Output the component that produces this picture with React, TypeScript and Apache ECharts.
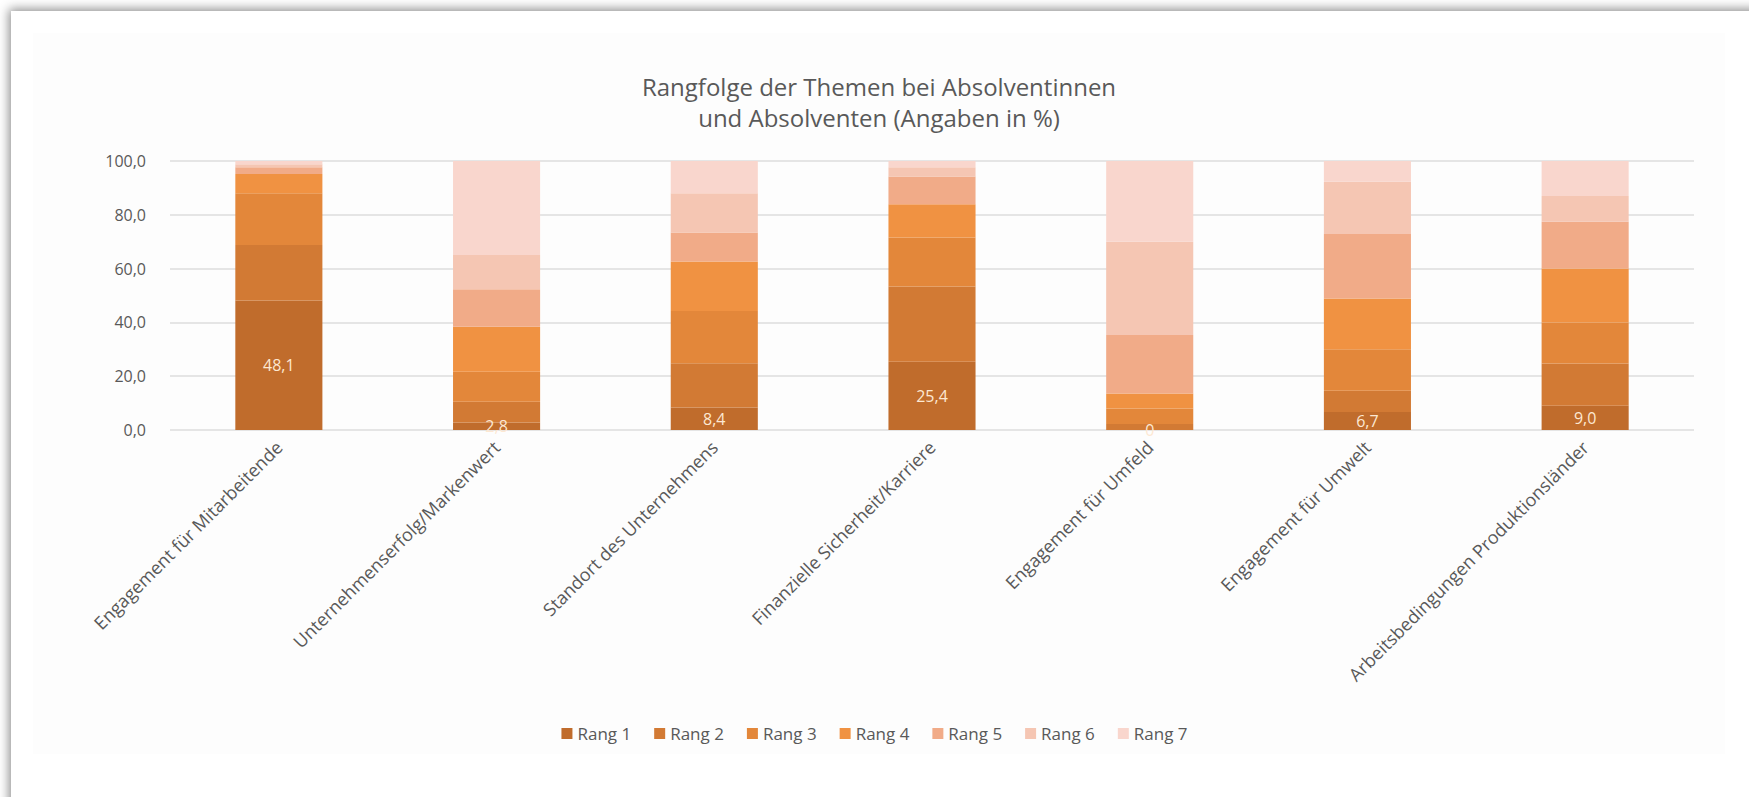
import React, { useEffect, useRef } from "react";
import * as echarts from "echarts";

const categories = [
  "Engagement für Mitarbeitende",
  "Unternehmenserfolg/Markenwert",
  "Standort des Unternehmens",
  "Finanzielle Sicherheit/Karriere",
  "Engagement für Umfeld",
  "Engagement für Umwelt",
  "Arbeitsbedingungen Produktionsländer",
];

const seriesNames = ["Rang 1", "Rang 2", "Rang 3", "Rang 4", "Rang 5", "Rang 6", "Rang 7"];

const rang1 = [48.1, 2.8, 8.4, 25.4, 0, 6.7, 9.0];
const rang2 = [20.7, 7.7, 16.4, 27.9, 2.2, 7.9, 15.7];
const rang3 = [19.2, 11.2, 19.4, 18.3, 5.8, 15.4, 15.3];
const rang4 = [7.2, 16.7, 18.4, 12.3, 5.6, 18.9, 20.0];
const rang5 = [2.5, 13.9, 10.8, 10.3, 21.7, 24.0, 17.4];
const rang6 = [1.1, 12.8, 14.6, 3.5, 34.7, 19.4, 9.6];
const rang7 = [1.2, 34.9, 12.0, 2.3, 30.0, 7.7, 13.0];

const yTicks = [0, 20, 40, 60, 80, 100];

const colors = ["#c06c2c", "#d27a34", "#e3873a", "#f09242", "#f1ab88", "#f5c6b3", "#f9d6cd"];

const FONT = "'Open Sans', sans-serif";
const GRAY = "#595959";

export default function App() {
  const ref = useRef<HTMLDivElement>(null);

  useEffect(() => {
    if (!ref.current) return;
    const chart = echarts.init(ref.current, undefined, { renderer: "svg" });
    const allData = [rang1, rang2, rang3, rang4, rang5, rang6, rang7];
    const series = allData.map((d, i) => ({
      name: seriesNames[i],
      type: "bar" as const,
      stack: "total",
      data: d,
      barWidth: "40%",
      itemStyle: { color: colors[i] },
      label:
        i === 0
          ? {
              show: true,
              position: "inside" as const,
              color: "#fde8d2",
              fontSize: 16,
              fontFamily: FONT,
              formatter: (p: any) =>
                p.value === 0 ? "0" : Number(p.value).toFixed(1).replace(".", ","),
            }
          : { show: false },
    }));

    chart.setOption({
      animation: false,
      backgroundColor: "transparent",
      title: {
        text: "Rangfolge der Themen bei Absolventinnen\nund Absolventen (Angaben in %)",
        left: 874,
        top: 66,
        textAlign: "center",
        textStyle: {
          fontFamily: FONT,
          fontSize: 24,
          fontWeight: "normal",
          color: GRAY,
          lineHeight: 31,
        },
      },
      legend: {
        data: seriesNames,
        left: "center",
        top: 720,
        itemWidth: 11,
        itemHeight: 11,
        itemGap: 23,
        icon: "rect",
        textStyle: { fontFamily: FONT, fontSize: 17, color: GRAY },
      },
      grid: { left: 170, right: 55, top: 161, bottom: 367, containLabel: false },
      xAxis: {
        type: "category",
        data: categories,
        axisLine: { show: false },
        axisTick: { show: false },
        axisLabel: {
          rotate: 45,
          interval: 0,
          margin: 14,
          fontFamily: FONT,
          fontSize: 18,
          color: GRAY,
        },
      },
      yAxis: {
        type: "value",
        min: yTicks[0],
        max: yTicks[yTicks.length - 1],
        interval: 20,
        axisLine: { show: false },
        axisTick: { show: false },
        splitLine: { lineStyle: { color: "#dcdcdc", width: 1.5 } },
        axisLabel: {
          margin: 24,
          fontFamily: FONT,
          fontSize: 16,
          color: GRAY,
          formatter: (v: number) => v.toFixed(1).replace(".", ","),
        },
      },
      series,
    });
    return () => chart.dispose();
  }, []);

  return (
    <div
      style={{
        position: "fixed",
        left: 0,
        top: 0,
        width: 1749,
        height: 797,
        overflow: "hidden",
        background: "#ffffff",
      }}
    >
      <div
        style={{
          position: "absolute",
          left: 11,
          top: 11,
          width: 1800,
          height: 850,
          background: "#ffffff",
          boxShadow: "0 0 10px 2px rgba(0,0,0,0.45)",
        }}
      />
      <div
        style={{
          position: "absolute",
          left: 33,
          top: 33,
          width: 1692,
          height: 721,
          background: "#fdfdfd",
        }}
      />
      <div ref={ref} style={{ position: "absolute", left: 0, top: 0, width: 1749, height: 797 }} />
    </div>
  );
}
